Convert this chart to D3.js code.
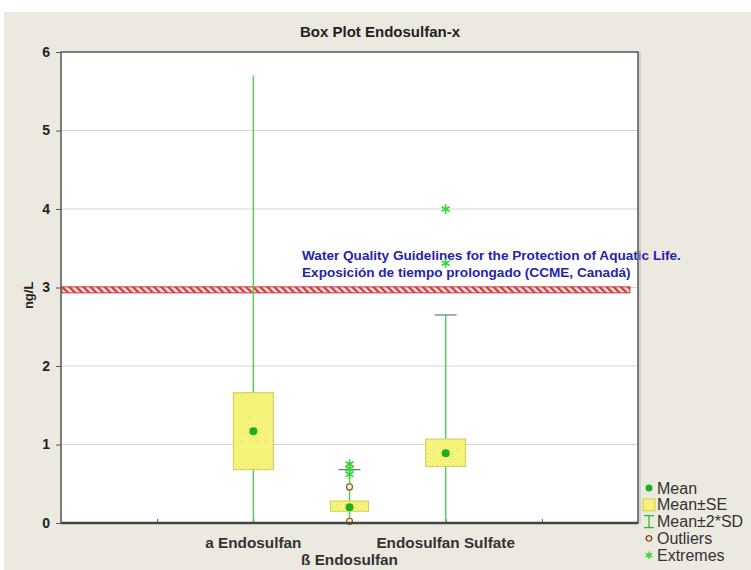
<!DOCTYPE html>
<html>
<head>
<meta charset="utf-8">
<script src="https://cdn.jsdelivr.net/npm/d3@7"></script>
<style>
  html, body { margin: 0; padding: 0; background: #fff; }
  svg { display: block; }
</style>
</head>
<body>
<script>
// Box plot data: mean, mean±SE box, mean±2*SD whiskers, outliers and extremes
const categories = ["a Endosulfan", "ß Endosulfan", "Endosulfan Sulfate"];
const means      = [1.17, 0.20, 0.89];
const seLow      = [0.68, 0.15, 0.72];
const seHigh     = [1.66, 0.28, 1.07];
const sdLow      = [0.00, 0.00, 0.00];
const sdHigh     = [5.70, 0.68, 2.65];
const outliers   = [[], [0.46, 0.02], []];
const extremes   = [[], [0.75, 0.69, 0.62], [4.00, 3.31]];
const yTicks     = [0, 1, 2, 3, 4, 5, 6];
const guideline  = 2.97;
const guideText  = ["Water Quality Guidelines for the Protection of Aquatic Life.",
                    "Exposición de tiempo prolongado (CCME, Canadá)"];
const legendLabels = ["Mean", "Mean±SE", "Mean±2*SD", "Outliers", "Extremes"];

const W = 751, H = 570;
const pLeft = 61, pRight = 638, pTop = 52, pBottom = 523;
const sans = "'Liberation Sans', Arial, sans-serif";

const svg = d3.select("body").append("svg").attr("width", W).attr("height", H);

// patterns
const defs = svg.append("defs");
const boxPat = defs.append("pattern").attr("id", "boxPat")
  .attr("width", 4).attr("height", 4).attr("patternUnits", "userSpaceOnUse");
boxPat.append("rect").attr("width", 4).attr("height", 4).attr("fill", "#f6f57c");
boxPat.append("rect").attr("x", 0).attr("y", 0).attr("width", 1).attr("height", 1).attr("fill", "#e2dc6a");
boxPat.append("rect").attr("x", 2).attr("y", 2).attr("width", 1).attr("height", 1).attr("fill", "#e2dc6a");

const hatch = defs.append("pattern").attr("id", "hatch")
  .attr("width", 5).attr("height", 5).attr("patternUnits", "userSpaceOnUse")
  .attr("patternTransform", "rotate(-45)");
hatch.append("rect").attr("width", 5).attr("height", 5).attr("fill", "#f6e0e0");
hatch.append("rect").attr("width", 2.3).attr("height", 5).attr("fill", "#cc3c3e");

// background panel
svg.append("rect").attr("x", 4).attr("y", 12).attr("width", W - 4).attr("height", H - 12)
  .attr("fill", "#ece9e1");

const x = d3.scaleLinear().domain([0, 6]).range([pLeft, pRight]);
const y = d3.scaleLinear().domain([0, 6]).range([pBottom, pTop]);
const cx = i => x(i + 2);

// plot area
svg.append("rect").attr("x", pLeft).attr("y", pTop).attr("width", pRight - pLeft).attr("height", pBottom - pTop)
  .attr("fill", "#ffffff");

// horizontal grid lines
svg.append("g").selectAll("line").data(yTicks.slice(1, -1)).join("line")
  .attr("x1", pLeft).attr("x2", pRight)
  .attr("y1", d => y(d)).attr("y2", d => y(d))
  .attr("stroke", "#d4d4d4").attr("stroke-width", 1);

// title
svg.append("text").attr("x", 380).attr("y", 37).attr("text-anchor", "middle")
  .attr("font-family", sans)
  .attr("font-weight", "bold").attr("font-size", 15).attr("fill", "#222")
  .text("Box Plot Endosulfan-x");

// y axis
const yAxis = svg.append("g").attr("transform", `translate(${pLeft},0)`)
  .call(d3.axisLeft(y).tickValues(yTicks).tickFormat(d3.format("d")).tickSize(5).tickPadding(6));
yAxis.select(".domain").remove();
yAxis.selectAll(".tick line").attr("stroke", "#555");
yAxis.selectAll(".tick text")
  .attr("font-family", sans)
  .attr("font-weight", "bold").attr("font-size", 14).attr("fill", "#222");

svg.append("text").attr("transform", `translate(33,${y(2.9)}) rotate(-90)`)
  .attr("text-anchor", "middle")
  .attr("font-family", sans)
  .attr("font-weight", "bold").attr("font-size", 13).attr("fill", "#222")
  .text("ng/L");

// x axis ticks and labels
const xAxis = svg.append("g").attr("transform", `translate(0,${pBottom})`)
  .call(d3.axisBottom(x).tickValues([1, 2, 3, 4, 5]).tickFormat("").tickSize(-4));
xAxis.select(".domain").remove();
xAxis.selectAll(".tick line").attr("stroke", "#555");

svg.append("g").selectAll("text").data(categories).join("text")
  .attr("x", (d, i) => cx(i))
  .attr("y", (d, i) => i % 2 === 0 ? 548 : 565)
  .attr("text-anchor", "middle")
  .attr("font-family", sans)
  .attr("font-weight", "bold").attr("font-size", 15.3).attr("fill", "#333")
  .text(d => d);

// guideline band
svg.append("rect").attr("x", pLeft + 1).attr("y", y(guideline) - 3)
  .attr("width", 630 - pLeft - 1).attr("height", 6)
  .attr("fill", "url(#hatch)").attr("stroke", "#c8383a").attr("stroke-width", 1);

svg.append("g").selectAll("text").data(guideText).join("text")
  .attr("x", 302).attr("y", (d, i) => 260 + i * 17)
  .attr("font-family", sans)
  .attr("font-weight", "bold").attr("font-size", 13.6).attr("fill", "#2424ac")
  .text(d => d);

// boxes
const boxW = 40;
const groups = svg.append("g").selectAll("g").data(categories).join("g");

groups.append("line")
  .attr("x1", (d, i) => cx(i)).attr("x2", (d, i) => cx(i))
  .attr("y1", (d, i) => y(sdLow[i])).attr("y2", (d, i) => y(sdHigh[i]))
  .attr("stroke", "#5ccc5c").attr("stroke-width", 1.5);

groups.filter((d, i) => i > 0).append("line")
  .attr("x1", d => cx(categories.indexOf(d)) - 11).attr("x2", d => cx(categories.indexOf(d)) + 11)
  .attr("y1", d => y(sdHigh[categories.indexOf(d)])).attr("y2", d => y(sdHigh[categories.indexOf(d)]))
  .attr("stroke", "#6b7480").attr("stroke-width", 1.2);

groups.append("rect")
  .attr("x", (d, i) => cx(i) - (i === 1 ? 19 : boxW / 2))
  .attr("width", (d, i) => i === 1 ? 38 : boxW)
  .attr("y", (d, i) => y(seHigh[i]))
  .attr("height", (d, i) => y(seLow[i]) - y(seHigh[i]))
  .attr("fill", "url(#boxPat)").attr("stroke", "#d2cc55").attr("stroke-width", 1);

// outliers
groups.each(function(d, i) {
  const g = d3.select(this);
  g.selectAll("circle.out").data(outliers[i]).join("circle").attr("class", "out")
    .attr("cx", cx(i)).attr("cy", v => y(v)).attr("r", 3)
    .attr("fill", "#fff8e8").attr("stroke", "#9a5a20").attr("stroke-width", 1.2);
});

// mean points
groups.append("circle")
  .attr("cx", (d, i) => cx(i)).attr("cy", (d, i) => y(means[i])).attr("r", 4)
  .attr("fill", "#1fae1f");

// extremes as asterisks
const star = d3.symbol().type(d3.symbolAsterisk).size(60);
groups.each(function(d, i) {
  const g = d3.select(this);
  g.selectAll("path.ext").data(extremes[i]).join("path").attr("class", "ext")
    .attr("d", star)
    .attr("transform", v => `translate(${cx(i)},${y(v)})`)
    .attr("fill", "none").attr("stroke", "#33d433").attr("stroke-width", 1.6);
});

// plot frame
svg.append("rect").attr("x", pLeft).attr("y", pTop).attr("width", pRight - pLeft).attr("height", pBottom - pTop)
  .attr("fill", "none").attr("stroke", "#555").attr("stroke-width", 1.5);
svg.append("line").attr("x1", pLeft).attr("x2", pRight).attr("y1", pBottom).attr("y2", pBottom)
  .attr("stroke", "#444").attr("stroke-width", 2.5);
svg.append("line").attr("x1", pRight + 2).attr("x2", pRight + 2).attr("y1", pTop).attr("y2", pBottom)
  .attr("stroke", "#bbb").attr("stroke-width", 1);

// legend
const legend = svg.append("g").attr("transform", "translate(649,488)");
const items = legend.selectAll("g").data(legendLabels).join("g")
  .attr("transform", (d, i) => `translate(0,${i * 16.8})`);
items.append("text").attr("x", 8).attr("y", 5.5)
  .attr("font-family", sans)
  .attr("font-size", 16).attr("fill", "#333")
  .text(d => d);
items.filter((d, i) => i === 0).append("circle").attr("r", 3.5).attr("fill", "#1fae1f");
items.filter((d, i) => i === 1).append("rect").attr("x", -6).attr("y", -6).attr("width", 12).attr("height", 12)
  .attr("fill", "url(#boxPat)").attr("stroke", "#d2cc55");
items.filter((d, i) => i === 2).each(function() {
  const g = d3.select(this);
  g.append("line").attr("x1", 0).attr("x2", 0).attr("y1", -6).attr("y2", 6).attr("stroke", "#33b833").attr("stroke-width", 1.3);
  g.append("line").attr("x1", -5).attr("x2", 5).attr("y1", -6).attr("y2", -6).attr("stroke", "#33b833").attr("stroke-width", 1.3);
  g.append("line").attr("x1", -5).attr("x2", 5).attr("y1", 6).attr("y2", 6).attr("stroke", "#33b833").attr("stroke-width", 1.3);
});
items.filter((d, i) => i === 3).append("circle").attr("r", 2.8)
  .attr("fill", "none").attr("stroke", "#7a3a10").attr("stroke-width", 1.3);
items.filter((d, i) => i === 4).append("path").attr("d", d3.symbol().type(d3.symbolAsterisk).size(40))
  .attr("fill", "none").attr("stroke", "#33d433").attr("stroke-width", 1.4);
</script>
</body>
</html>
